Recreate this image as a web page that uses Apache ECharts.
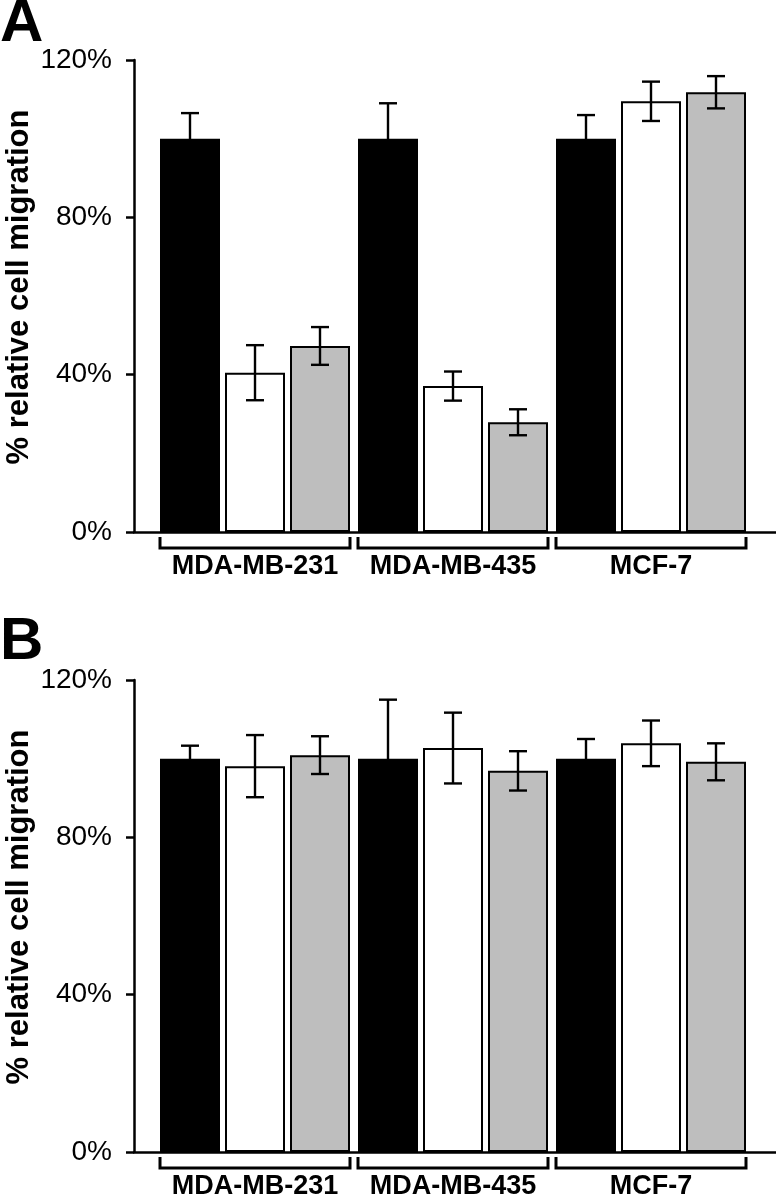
<!DOCTYPE html>
<html>
<head>
<meta charset="utf-8">
<script src="https://cdn.jsdelivr.net/npm/echarts@6/dist/echarts.min.js"></script>
<style>
html,body{margin:0;padding:0;background:#fff;}
#chart{width:776px;height:1200px;}
</style>
</head>
<body>
<div id="chart"></div>
<script>
// ---- data ----
const categories = ['MDA-MB-231', 'MDA-MB-435', 'MCF-7'];
const yMin = 0, yMax = 120, yInterval = 40;
const yTitle = '% relative cell migration';
const panelLabels = ['A', 'B'];

const panelA_black = [100, 100, 100];
const panelA_blackErr = [6.5, 9, 6];
const panelA_white = [40.5, 37.1, 109.5];
const panelA_whiteErr = [7, 3.7, 5];
const panelA_gray = [47.3, 27.9, 111.8];
const panelA_grayErr = [4.8, 3.3, 4.1];

const panelB_black = [100, 100, 100];
const panelB_blackErr = [3.3, 15, 5];
const panelB_white = [98.1, 102.7, 103.9];
const panelB_whiteErr = [7.9, 9, 5.8];
const panelB_gray = [100.9, 96.9, 99.2];
const panelB_grayErr = [4.8, 5, 4.7];

// ---- styles ----
const FONT = '"Liberation Sans", Arial, Helvetica, sans-serif';
const BAR_W = 60, BAR_GAP_PX = 5;
const barColors = ['#000000', '#ffffff', '#bebebe'];
const panels = [
  { top: 60, series: [[panelA_black, panelA_blackErr], [panelA_white, panelA_whiteErr], [panelA_gray, panelA_grayErr]] },
  { top: 680, series: [[panelB_black, panelB_blackErr], [panelB_white, panelB_whiteErr], [panelB_gray, panelB_grayErr]] }
];
const PLOT_H = 472;

const grids = [], xAxes = [], yAxes = [], series = [];
panels.forEach((p, pi) => {
  const gMain = grids.length;
  grids.push({ left: 156, width: 594, top: p.top, height: PLOT_H });
  const gLine = grids.length;
  grids.push({ left: 134, right: 0, top: p.top, height: PLOT_H });

  const xMain = xAxes.length;
  xAxes.push({
    type: 'category', gridIndex: gMain, data: categories,
    axisLine: { show: false }, axisTick: { show: false },
    axisLabel: { interval: 0, color: '#000', fontFamily: FONT, fontWeight: 'bold', fontSize: 27, margin: 21 }
  });
  const xLine = xAxes.length;
  xAxes.push({
    type: 'value', gridIndex: gLine, min: 0, max: 1, position: 'bottom',
    axisLine: { show: true, onZero: false, lineStyle: { color: '#000', width: 2.5 } },
    axisTick: { show: false }, axisLabel: { show: false }, splitLine: { show: false }
  });
  const yMain = yAxes.length;
  yAxes.push({
    type: 'value', gridIndex: gMain, min: yMin, max: yMax, interval: yInterval, offset: 22,
    axisLine: { show: true, lineStyle: { color: '#000', width: 2.5 } },
    axisTick: { show: true, inside: false, length: 8, lineStyle: { color: '#000', width: 2.5 } },
    axisLabel: { color: '#000', fontFamily: FONT, fontSize: 28, margin: 22, formatter: '{value}%' },
    splitLine: { show: false }
  });
  const yLine = yAxes.length;
  yAxes.push({ type: 'value', gridIndex: gLine, min: 0, max: 1, show: false });

  // bars
  p.series.forEach((s, si) => {
    series.push({
      type: 'bar', xAxisIndex: xMain, yAxisIndex: yMain,
      data: s[0], barWidth: BAR_W, barGap: (BAR_GAP_PX / BAR_W * 100) + '%',
      itemStyle: { color: barColors[si], borderColor: '#000', borderWidth: 2 },
      silent: true, z: 2
    });
  });
  // error bars
  p.series.forEach((s, si) => {
    const off = (si - 1) * (BAR_W + BAR_GAP_PX);
    series.push({
      type: 'custom', xAxisIndex: xMain, yAxisIndex: yMain, z: 5, silent: true,
      data: s[0].map((v, i) => [i, v, s[1][i]]),
      renderItem: function (params, api) {
        const c = api.value(0), m = api.value(1), e = api.value(2);
        const x = api.coord([c, m])[0] + off;
        const yT = api.coord([c, m + e])[1];
        const yB = api.coord([c, m - e])[1];
        const cap = 9;
        const st = { stroke: '#000', lineWidth: 2.4, fill: null };
        return {
          type: 'group', children: [
            { type: 'line', shape: { x1: x, y1: yT, x2: x, y2: yB }, style: st },
            { type: 'line', shape: { x1: x - cap, y1: yT, x2: x + cap, y2: yT }, style: st },
            { type: 'line', shape: { x1: x - cap, y1: yB, x2: x + cap, y2: yB }, style: st }
          ]
        };
      }
    });
  });
  // brackets below categories
  series.push({
    type: 'custom', xAxisIndex: xMain, yAxisIndex: yMain, z: 5, silent: true,
    data: categories.map((c, i) => [i]),
    renderItem: function (params, api) {
      const idx = api.value(0);
      const pt = api.coord([idx, yMin]);
      const half = api.size([1, 0])[0] / 2 - 4;
      const y0 = pt[1];
      return {
        type: 'polyline',
        shape: { points: [[pt[0] - half, y0 + 5], [pt[0] - half, y0 + 16], [pt[0] + half, y0 + 16], [pt[0] + half, y0 + 5]] },
        style: { stroke: '#000', lineWidth: 3, fill: null }
      };
    }
  });
  // dummy for line grid
  series.push({ type: 'line', xAxisIndex: xLine, yAxisIndex: yLine, data: [], silent: true });
});

const graphics = [];
panels.forEach((p, pi) => {
  graphics.push({
    type: 'text', left: 0, top: p.top - (pi === 0 ? 66 : 68),
    style: { text: panelLabels[pi], font: 'bold 60px ' + FONT, fill: '#000' }
  });
  graphics.push({
    type: 'text', x: 19, y: p.top + PLOT_H / 2 - 9, rotation: Math.PI / 2,
    style: { text: yTitle, font: 'bold 31px ' + FONT, fill: '#000', align: 'center', verticalAlign: 'middle' }
  });
});

const chart = echarts.init(document.getElementById('chart'), null, { renderer: 'canvas' });
chart.setOption({
  animation: false,
  backgroundColor: '#ffffff',
  grid: grids, xAxis: xAxes, yAxis: yAxes, series: series, graphic: graphics
});
</script>
</body>
</html>
